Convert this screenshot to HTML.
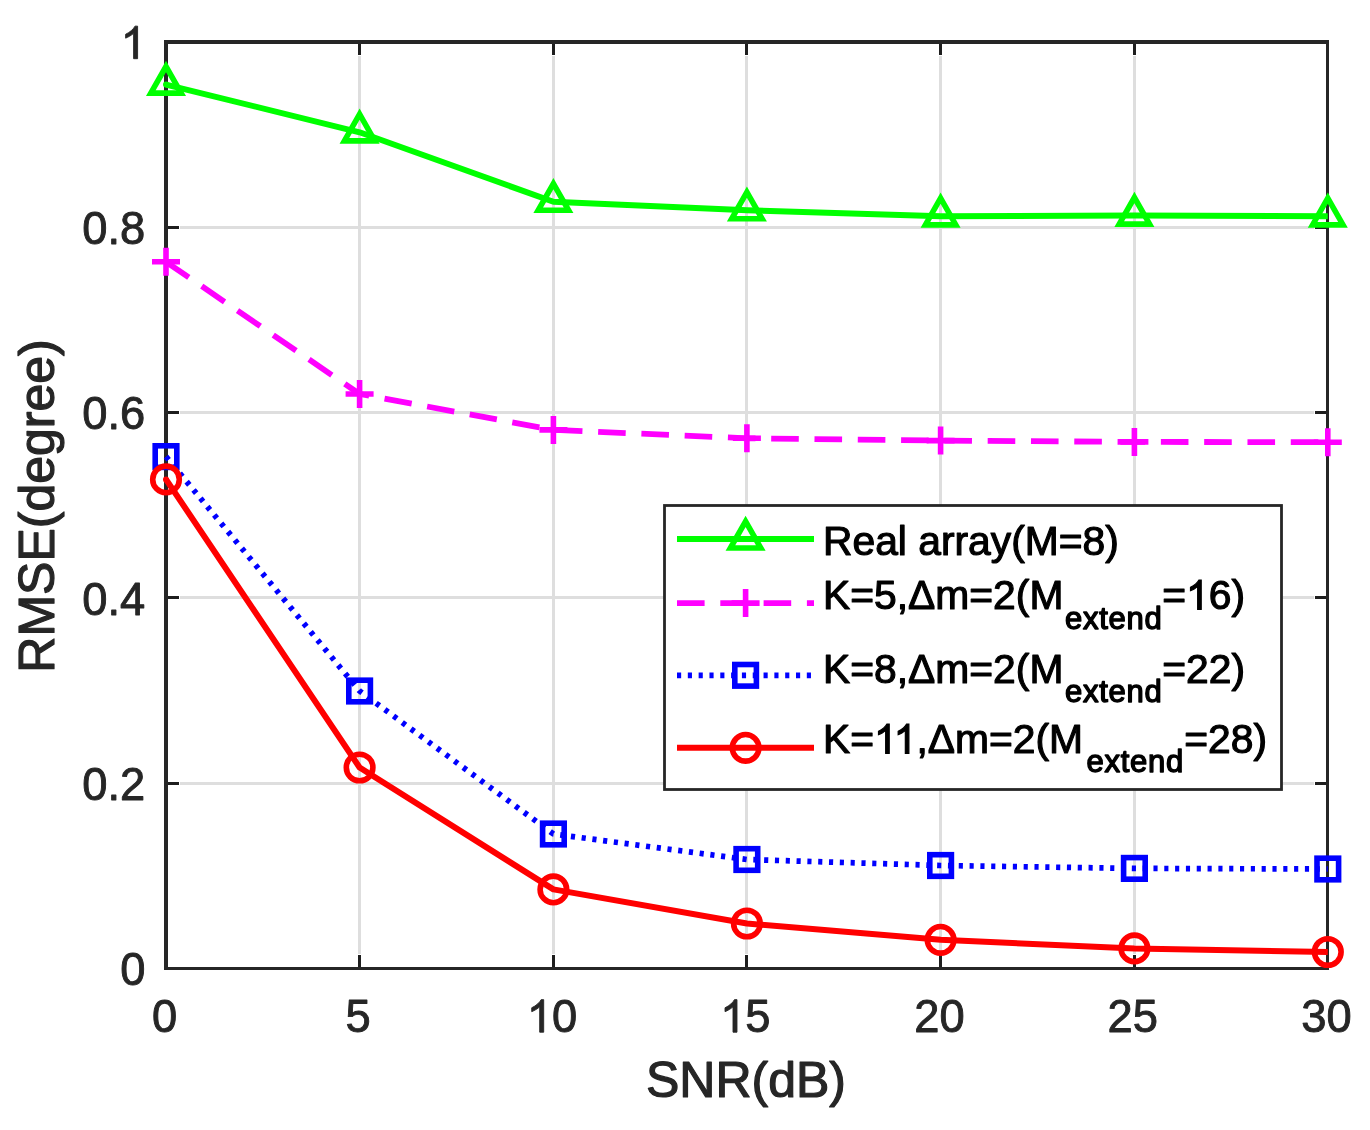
<!DOCTYPE html>
<html lang="en"><head><meta charset="utf-8"><title>RMSE vs SNR</title>
<style>html,body{margin:0;padding:0;background:#fff;}body{width:1370px;height:1130px;overflow:hidden;font-family:"Liberation Sans", sans-serif;}svg{display:block;will-change:transform;}text{font-family:"Liberation Sans", sans-serif;}</style></head><body>
<svg width="1370" height="1130" viewBox="0 0 1370 1130" role="img" aria-label="RMSE versus SNR line chart">
<rect x="0" y="0" width="1370" height="1130" fill="#ffffff"/>
<g fill="#dedede" shape-rendering="crispEdges">
<rect x="358" y="56" width="3" height="898"/>
<rect x="552" y="56" width="3" height="898"/>
<rect x="745" y="56" width="3" height="898"/>
<rect x="939" y="56" width="3" height="898"/>
<rect x="1133" y="56" width="3" height="898"/>
<rect x="180" y="226" width="1134" height="3"/>
<rect x="180" y="411" width="1134" height="3"/>
<rect x="180" y="596" width="1134" height="3"/>
<rect x="180" y="782" width="1134" height="3"/>
</g>
<g fill="#262626" shape-rendering="crispEdges">
<rect x="164" y="40" width="4" height="930"/>
<rect x="164" y="40" width="1165" height="4"/>
<rect x="1326" y="40" width="3" height="930"/>
<rect x="164" y="967" width="1165" height="3"/>
</g>
<g fill="#1e1e1e" shape-rendering="crispEdges">
<rect x="358" y="44" width="3" height="11"/>
<rect x="358" y="955" width="3" height="12"/>
<rect x="552" y="44" width="3" height="11"/>
<rect x="552" y="955" width="3" height="12"/>
<rect x="745" y="44" width="3" height="11"/>
<rect x="745" y="955" width="3" height="12"/>
<rect x="939" y="44" width="3" height="11"/>
<rect x="939" y="955" width="3" height="12"/>
<rect x="1133" y="44" width="3" height="11"/>
<rect x="1133" y="955" width="3" height="12"/>
<rect x="168" y="226" width="11" height="3"/>
<rect x="1315" y="226" width="11" height="3"/>
<rect x="168" y="411" width="11" height="3"/>
<rect x="1315" y="411" width="11" height="3"/>
<rect x="168" y="596" width="11" height="3"/>
<rect x="1315" y="596" width="11" height="3"/>
<rect x="168" y="782" width="11" height="3"/>
<rect x="1315" y="782" width="11" height="3"/>
</g>
<g fill="#262626" stroke="#262626" stroke-width="0.90" stroke-linejoin="round" font-size="45.30">
<text x="152.00" y="1032.20">0</text>
<text x="345.60" y="1032.20">5</text>
<path d="M543.68 1032.20L539.70 1032.20L539.70 1006.83Q538.26 1008.20 535.92 1009.57Q533.59 1010.94 531.73 1011.63L531.73 1007.78Q535.07 1006.21 537.57 1003.98Q540.07 1001.74 541.11 999.64L543.68 999.64Z" fill="#262626" stroke="#262626" stroke-width="0.90" stroke-linejoin="miter"/>
<text x="551.99" y="1032.20">0</text>
<path d="M736.98 1032.20L733.00 1032.20L733.00 1006.83Q731.56 1008.20 729.22 1009.57Q726.89 1010.94 725.03 1011.63L725.03 1007.78Q728.37 1006.21 730.87 1003.98Q733.37 1001.74 734.41 999.64L736.98 999.64Z" fill="#262626" stroke="#262626" stroke-width="0.90" stroke-linejoin="miter"/>
<text x="745.29" y="1032.20">5</text>
<text x="914.20" y="1032.20">20</text>
<text x="1107.50" y="1032.20">25</text>
<text x="1301.30" y="1032.20">30</text>
<text x="120.30" y="985.00">0</text>
<text x="82.30" y="799.90">0.2</text>
<text x="82.30" y="614.50">0.4</text>
<text x="82.30" y="429.00">0.6</text>
<text x="82.30" y="243.90">0.8</text>
<path d="M137.58 58.70L133.60 58.70L133.60 33.33Q132.16 34.70 129.82 36.07Q127.49 37.44 125.63 38.13L125.63 34.28Q128.97 32.71 131.47 30.48Q133.97 28.24 135.01 26.14L137.58 26.14Z" fill="#262626" stroke="#262626" stroke-width="0.90" stroke-linejoin="miter"/>
</g>
<text x="746" y="1096.8" font-size="50" fill="#262626" stroke="#262626" stroke-width="1.2" stroke-linejoin="round" text-anchor="middle">SNR(dB)</text>
<text transform="translate(53.9,506) rotate(-90)" font-size="50" fill="#262626" stroke="#262626" stroke-width="1.2" stroke-linejoin="round" text-anchor="middle">RMSE(degree)</text>
<g fill="none" stroke-width="6.00">
<polyline points="166.00,84.60 359.60,132.30 553.40,201.70 746.90,210.20 940.60,216.30 1134.40,215.60 1327.80,216.30" stroke="#00ff00" stroke-linejoin="round" stroke-linecap="butt"/>
<polyline points="166.00,261.80 359.60,394.00 553.40,429.90 746.90,438.30 940.60,440.60 1134.40,441.90 1327.80,442.20" stroke="#ff00ff" stroke-width="5.8" stroke-linejoin="round" stroke-dasharray="27.6 15.7"/>
<polyline points="166.00,456.60 359.60,691.00 553.40,834.00 746.90,859.50 940.60,865.50 1134.40,868.40 1327.80,869.00" stroke="#0000ff" stroke-width="5.7" stroke-linejoin="round" stroke-dasharray="4.15 6.668"/>
<polyline points="166.00,479.40 359.60,767.50 553.40,889.40 746.90,923.50 940.60,939.80 1134.40,948.40 1327.80,952.00" stroke="#ff0000" stroke-linejoin="round"/>
</g>
<circle cx="166.00" cy="84.60" r="3.00" fill="#00ff00"/>
<circle cx="166.00" cy="479.40" r="3.00" fill="#ff0000"/>
<polygon points="166.00,66.50 150.80,93.15 181.20,93.15" fill="none" stroke="#00ff00" stroke-width="5.60" stroke-linejoin="miter" stroke-miterlimit="10"/>
<polygon points="359.60,114.20 344.40,140.85 374.80,140.85" fill="none" stroke="#00ff00" stroke-width="5.60" stroke-linejoin="miter" stroke-miterlimit="10"/>
<polygon points="553.40,183.60 538.20,210.25 568.60,210.25" fill="none" stroke="#00ff00" stroke-width="5.60" stroke-linejoin="miter" stroke-miterlimit="10"/>
<polygon points="746.90,192.10 731.70,218.75 762.10,218.75" fill="none" stroke="#00ff00" stroke-width="5.60" stroke-linejoin="miter" stroke-miterlimit="10"/>
<polygon points="940.60,198.20 925.40,224.85 955.80,224.85" fill="none" stroke="#00ff00" stroke-width="5.60" stroke-linejoin="miter" stroke-miterlimit="10"/>
<polygon points="1134.40,197.50 1119.20,224.15 1149.60,224.15" fill="none" stroke="#00ff00" stroke-width="5.60" stroke-linejoin="miter" stroke-miterlimit="10"/>
<polygon points="1327.80,198.20 1312.60,224.85 1343.00,224.85" fill="none" stroke="#00ff00" stroke-width="5.60" stroke-linejoin="miter" stroke-miterlimit="10"/>
<path d="M152.00 261.80H180.00M166.00 247.80V275.80" fill="none" stroke="#ff00ff" stroke-width="5.60"/>
<path d="M345.60 394.00H373.60M359.60 380.00V408.00" fill="none" stroke="#ff00ff" stroke-width="5.60"/>
<path d="M539.40 429.90H567.40M553.40 415.90V443.90" fill="none" stroke="#ff00ff" stroke-width="5.60"/>
<path d="M732.90 438.30H760.90M746.90 424.30V452.30" fill="none" stroke="#ff00ff" stroke-width="5.60"/>
<path d="M926.60 440.60H954.60M940.60 426.60V454.60" fill="none" stroke="#ff00ff" stroke-width="5.60"/>
<path d="M1120.40 441.90H1148.40M1134.40 427.90V455.90" fill="none" stroke="#ff00ff" stroke-width="5.60"/>
<path d="M1313.80 442.20H1341.80M1327.80 428.20V456.20" fill="none" stroke="#ff00ff" stroke-width="5.60"/>
<rect x="155.20" y="445.80" width="21.60" height="21.60" fill="none" stroke="#0000ff" stroke-width="5.60"/>
<rect x="348.80" y="680.20" width="21.60" height="21.60" fill="none" stroke="#0000ff" stroke-width="5.60"/>
<rect x="542.60" y="823.20" width="21.60" height="21.60" fill="none" stroke="#0000ff" stroke-width="5.60"/>
<rect x="736.10" y="848.70" width="21.60" height="21.60" fill="none" stroke="#0000ff" stroke-width="5.60"/>
<rect x="929.80" y="854.70" width="21.60" height="21.60" fill="none" stroke="#0000ff" stroke-width="5.60"/>
<rect x="1123.60" y="857.60" width="21.60" height="21.60" fill="none" stroke="#0000ff" stroke-width="5.60"/>
<rect x="1317.00" y="858.20" width="21.60" height="21.60" fill="none" stroke="#0000ff" stroke-width="5.60"/>
<circle cx="166.00" cy="479.40" r="13.3" fill="none" stroke="#ff0000" stroke-width="5.60"/>
<circle cx="359.60" cy="767.50" r="13.3" fill="none" stroke="#ff0000" stroke-width="5.60"/>
<circle cx="553.40" cy="889.40" r="13.3" fill="none" stroke="#ff0000" stroke-width="5.60"/>
<circle cx="746.90" cy="923.50" r="13.3" fill="none" stroke="#ff0000" stroke-width="5.60"/>
<circle cx="940.60" cy="939.80" r="13.3" fill="none" stroke="#ff0000" stroke-width="5.60"/>
<circle cx="1134.40" cy="948.40" r="13.3" fill="none" stroke="#ff0000" stroke-width="5.60"/>
<circle cx="1327.80" cy="952.00" r="13.3" fill="none" stroke="#ff0000" stroke-width="5.60"/>
<rect x="664.5" y="505.5" width="617" height="284" fill="#ffffff" stroke="#262626" stroke-width="2.8"/>
<g fill="none" stroke-width="6.00">
<path d="M677.0 539.0H814.0" stroke="#00ff00"/>
<path d="M677.0 603.1H814.0" stroke="#ff00ff" stroke-width="5.8" stroke-dasharray="27.6 15.7"/>
<path d="M677.0 675.3H814.0" stroke="#0000ff" stroke-width="5.7" stroke-dasharray="4.15 6.668"/>
<path d="M677.0 747.8H814.0" stroke="#ff0000"/>
</g>
<polygon points="745.60,521.40 730.40,548.05 760.80,548.05" fill="none" stroke="#00ff00" stroke-width="5.60" stroke-linejoin="miter" stroke-miterlimit="10"/>
<path d="M731.60 603.10H759.60M745.60 589.10V617.10" fill="none" stroke="#ff00ff" stroke-width="5.60"/>
<rect x="734.80" y="664.50" width="21.60" height="21.60" fill="none" stroke="#0000ff" stroke-width="5.60"/>
<circle cx="745.60" cy="747.80" r="13.3" fill="none" stroke="#ff0000" stroke-width="5.60"/>
<g fill="#000000" stroke="#000000" stroke-width="1.15" stroke-linejoin="round" font-size="40.80">
<text x="823.00" y="554.80">Real array(M=8)</text>
<text x="823.00" y="609.30">K=5,Δm=2(M</text>
<text x="1065.00" y="629.10" font-size="31.00" letter-spacing="0.72" stroke-width="1.4">extend</text>
<text x="1162.20" y="609.30">=</text>
<path d="M1201.23 609.30L1197.64 609.30L1197.64 586.45Q1196.35 587.68 1194.24 588.92Q1192.14 590.16 1190.47 590.77L1190.47 587.31Q1193.48 585.89 1195.73 583.88Q1197.98 581.87 1198.92 579.97L1201.23 579.97Z" fill="#000000" stroke="#000000" stroke-width="1.15" stroke-linejoin="miter"/>
<text x="1208.72" y="609.30">6)</text>
<text x="823.00" y="683.30">K=8,Δm=2(M</text>
<text x="1065.00" y="701.70" font-size="31.00" letter-spacing="0.72" stroke-width="1.4">extend</text>
<text x="1162.20" y="683.30">=22)</text>
<text x="823.00" y="753.30">K=</text>
<path d="M889.24 753.30L885.65 753.30L885.65 730.45Q884.36 731.68 882.26 732.92Q880.16 734.16 878.48 734.77L878.48 731.31Q881.49 729.89 883.74 727.88Q885.99 725.87 886.93 723.97L889.24 723.97Z" fill="#000000" stroke="#000000" stroke-width="1.15" stroke-linejoin="miter"/>
<path d="M908.90 753.30L905.32 753.30L905.32 730.45Q904.02 731.68 901.92 732.92Q899.82 734.16 898.15 734.77L898.15 731.31Q901.15 729.89 903.40 727.88Q905.66 725.87 906.59 723.97L908.90 723.97Z" fill="#000000" stroke="#000000" stroke-width="1.15" stroke-linejoin="miter"/>
<text x="916.39" y="753.30">,Δm=2(M</text>
<text x="1086.60" y="772.00" font-size="31.00" letter-spacing="0.72" stroke-width="1.4">extend</text>
<text x="1184.20" y="753.30">=28)</text>
</g>
</svg></body></html>
